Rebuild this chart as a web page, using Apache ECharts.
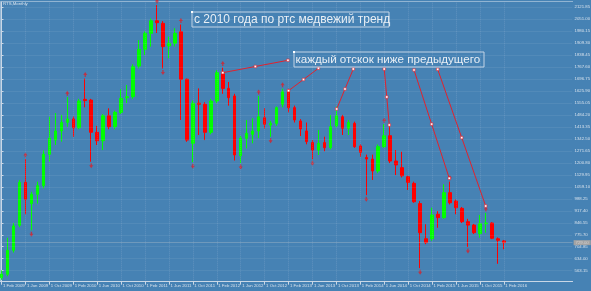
<!DOCTYPE html>
<html><head><meta charset="utf-8">
<script src="https://cdn.jsdelivr.net/npm/echarts@6/dist/echarts.min.js"></script>
<style>html,body{margin:0;padding:0;background:#4682B4;}#c{width:591px;height:291px;}</style>
</head><body><div id="c"></div>
<script>
// ---- data (RTS, Monthly, Feb 2009 .. Feb 2016) ----
const open  = [522,542,684,832,1086,960,1015,1066,1252,1336,1390,1441,1461,1409,1577,1573,1382,1332,1480,1415,1500,1587,1593,1774,1873,1968,2042,2027,1893,1909,1977,1696,1317,1554,1548,1382,1567,1727,1642,1597,1244,1347,1370,1390,1468,1425,1435,1548,1628,1528,1449,1390,1321,1277,1321,1291,1421,1474,1406,1435,1301,1233,1224,1153,1297,1362,1212,1173,1119,1080,960,752,752,897,877,1025,975,932,853,833,782,841,845,752,739];
const close = [543,684,828,1086,986,1015,1066,1252,1347,1390,1441,1461,1409,1567,1570,1382,1332,1480,1415,1500,1583,1593,1770,1873,1968,2042,2031,1889,1909,1968,1696,1336,1554,1548,1382,1567,1735,1642,1587,1248,1347,1376,1390,1474,1430,1435,1528,1622,1528,1455,1402,1327,1277,1317,1291,1415,1480,1406,1441,1297,1264,1224,1153,1297,1362,1212,1189,1125,1086,971,788,729,893,877,1025,965,936,853,833,788,841,845,755,743,729];
const low   = [508,530,670,820,897,802,960,1050,1208,1307,1327,1415,1356,1400,1530,1208,1307,1277,1400,1400,1490,1555,1580,1760,1840,1889,1970,1760,1820,1890,1455,1326,1205,1366,1336,1370,1555,1610,1540,1215,1200,1287,1317,1347,1405,1355,1420,1530,1500,1440,1360,1311,1222,1248,1270,1280,1410,1366,1366,1290,1238,1010,1100,1140,1290,1200,1129,1115,1041,965,578,720,740,817,870,955,897,845,703,780,758,788,750,604,690];
const high  = [565,758,845,1100,1224,1030,1090,1275,1474,1496,1485,1590,1475,1580,1700,1580,1420,1490,1524,1510,1637,1662,1785,1928,1980,2055,2135,2040,1948,1998,2020,1700,1570,1642,1560,1580,1750,1765,1680,1610,1360,1455,1465,1597,1524,1450,1535,1640,1640,1540,1460,1440,1335,1396,1356,1484,1534,1485,1455,1445,1310,1250,1250,1310,1430,1420,1277,1267,1125,1090,975,838,936,916,1074,1090,985,940,870,840,893,905,850,760,745];

// Bill Williams fractals: [candle index, price]
const fractalsUp   = [[4,1224],[11,1590],[14,1700],[26,2135],[30,2020],[37,1765],[43,1597],[47,1640],[64,1430],[75,1090],[81,905]];
const fractalsDown = [[5,802],[15,1208],[27,1760],[32,1205],[40,1200],[45,1355],[52,1222],[61,1010],[70,578],[78,703]];

// trend lines drawn on the chart: [[index, price], [index, price]]
const trendLines = [
  [[37.0,1734.8],[47.9,1808.2]],
  [[48.0,1628.3],[53.0,1760.9]],
  [[56.05,1520.0],[58.83,1756.7]],
  [[64.85,1425.3],[64.0,1756.7]],
  [[74.88,1109.9],[68.98,1750.8]],
  [[80.97,945.9],[72.94,1754.9]]
];

const yTickValues = [563.15,634.00,704.85,775.70,846.55,917.40,988.25,1059.10,1129.95,1200.80,1271.65,1342.50,1413.35,1484.20,1555.05,1625.90,1696.75,1767.60,1838.45,1909.30,1980.15,2051.00,2121.85];
const xTickLabels = ['1 Feb 2009','1 Jun 2009','1 Oct 2009','1 Feb 2010','1 Jun 2010','1 Oct 2010','1 Feb 2011','1 Jun 2011','1 Oct 2011','1 Feb 2012','1 Jun 2012','1 Oct 2012','1 Feb 2013','1 Jun 2013','1 Oct 2013','1 Feb 2014','1 Jun 2014','1 Oct 2014','1 Feb 2015','1 Jun 2015','1 Oct 2015','1 Feb 2016'];
const title1 = 'с 2010 года по ртс медвежий тренд';
const title2 = 'каждый отскок ниже предыдущего';

// ---- build ----
const monthNames = ['Jan','Feb','Mar','Apr','May','Jun','Jul','Aug','Sep','Oct','Nov','Dec'];
const slots = 96;
const categories = [];
for (let k = 0; k < slots; k++) {
  const m = (1 + k) % 12, y = 2009 + Math.floor((1 + k) / 12);
  categories.push('1 ' + monthNames[m] + ' ' + y);
}
const lastIdx = close.length - 1;
const candleData = open.map((o, i) => [o, close[i], low[i], high[i]]);
const labelSet = new Set(xTickLabels);
const showTick = (idx) => labelSet.has(categories[idx]);
const gridXIdx = [];
categories.forEach((c, i) => { if (labelSet.has(c)) gridXIdx.push(i); });

const txt = '#d6e1ec';
const axisCol = '#c9d7e6';
const arrowPath = 'path://M5,0 L10,6 L6.6,6 L6.6,10 L3.4,10 L3.4,6 L0,6 Z';

const lineSeries = trendLines.map(tl => {
  const a = tl[0], b = tl[1];
  const mid = [(a[0] + b[0]) / 2, (a[1] + b[1]) / 2];
  return {
    type: 'line', xAxisIndex: 1, yAxisIndex: 0, data: [a, mid, b], z: 5, clip: false,
    symbol: 'rect', symbolSize: 2.5, showSymbol: true,
    lineStyle: { color: '#e0222e', width: 1 },
    itemStyle: { color: '#ffffff', borderColor: '#e0222e', borderWidth: 0.6 },
    silent: true
  };
});

const chart = echarts.init(document.getElementById('c'), null, { renderer: 'canvas' });
chart.setOption({
  animation: false,
  backgroundColor: '#4682B4',
  grid: { left: -1.49, right: 18.41, top: 2, bottom: 9.3, containLabel: false, outerBoundsMode: 'none' },
  xAxis: [
    {
      type: 'category', data: categories, boundaryGap: true, position: 'bottom',
      axisLine: { show: true, lineStyle: { color: axisCol, width: 1 } },
      axisTick: { show: true, alignWithLabel: true, interval: (i) => showTick(i), length: 3, lineStyle: { color: axisCol } },
      axisLabel: { show: true, interval: (i) => showTick(i), align: 'left', margin: 2, padding: [0, 0, 0, 1.5],
        fontSize: 4.3, color: txt, fontFamily: 'Liberation Sans', hideOverlap: false },
      splitLine: { show: false }
    },
    { type: 'value', min: -0.5, max: slots - 0.5, show: false, splitLine: { show: false } }
  ],
  yAxis: [{
    type: 'value', position: 'right', min: 497.9, max: 2153.2, scale: true,
    axisLine: { show: true, lineStyle: { color: axisCol, width: 1 } },
    axisTick: { show: true, customValues: yTickValues, length: 2, lineStyle: { color: axisCol } },
    axisLabel: { show: true, customValues: yTickValues, formatter: v => v.toFixed(2), margin: 2,
      fontSize: 4.3, color: txt, fontFamily: 'Liberation Sans', hideOverlap: false },
    splitLine: { show: false }
  }],
  series: [
    {
      type: 'scatter', xAxisIndex: 1, data: [], z: 0, silent: true,
      markLine: {
        silent: true, symbol: ['none', 'none'], label: { show: false }, animation: false,
        lineStyle: { color: 'rgba(215,225,240,0.18)', type: 'dotted', width: 1 },
        data: yTickValues.map(v => ({ yAxis: v })).concat(gridXIdx.map(i => ({ xAxis: i })))
      }
    },
    {
      type: 'candlestick', xAxisIndex: 0, yAxisIndex: 0, data: candleData, barWidth: 3, z: 2,
      itemStyle: { color: '#00ff00', color0: '#ff0000', borderColor: '#00ff00', borderColor0: '#ff0000', borderWidth: 1 },
      markLine: {
        silent: true, symbol: ['none', 'none'], animation: false,
        lineStyle: { color: 'rgba(210,210,210,0.3)', type: 'solid', width: 1 },
        label: { show: true, position: 'end', distance: 1, formatter: p => p.value.toFixed(2), fontSize: 4.3,
          color: '#d0d0d0', backgroundColor: '#a3a3a3', padding: [0.5, 2, 0.5, 2], fontFamily: 'Liberation Sans' },
        data: [{ yAxis: close[lastIdx] }]
      }
    },
    {
      type: 'scatter', xAxisIndex: 1, data: fractalsUp, symbol: arrowPath, symbolSize: [4, 5],
      symbolOffset: [0, -4], itemStyle: { color: '#d8202a' }, z: 3, silent: true
    },
    {
      type: 'scatter', xAxisIndex: 1, data: fractalsDown, symbol: arrowPath, symbolSize: [4, 5], symbolRotate: 180,
      symbolOffset: [0, 4], itemStyle: { color: '#d8202a' }, z: 3, silent: true
    }
  ].concat(lineSeries),
  graphic: [
    { type: 'line', shape: { x1: 0.5, y1: 1.5, x2: 0.5, y2: 281.7 }, style: { stroke: 'rgba(220,230,240,0.5)', lineWidth: 1 }, silent: true },
    { type: 'line', shape: { x1: 0.5, y1: 1.5, x2: 573, y2: 1.5 }, style: { stroke: 'rgba(220,230,240,0.5)', lineWidth: 1 }, silent: true },
    { type: 'text', left: 3, top: 2, style: { text: 'RTS,Monthly', fontSize: 4.3, fill: txt, fontFamily: 'Liberation Sans' }, silent: true },
    { type: 'rect', shape: { x: 192, y: 12, width: 197, height: 15 }, style: { fill: 'none', stroke: '#c3d4e6', lineWidth: 1 }, z: 20, silent: true },
    { type: 'text', x: 194, y: 19.5, style: { text: title1, fontSize: 12, fill: '#e9eff5', fontFamily: 'Liberation Sans', verticalAlign: 'middle' }, z: 21, silent: true },
    { type: 'rect', shape: { x: 191, y: 11, width: 2, height: 2 }, style: { fill: '#ffffff' }, z: 22, silent: true },
    { type: 'rect', shape: { x: 294, y: 52, width: 190, height: 15 }, style: { fill: 'none', stroke: '#c3d4e6', lineWidth: 1 }, z: 20, silent: true },
    { type: 'text', x: 295.5, y: 59.5, style: { text: title2, fontSize: 11.6, fill: '#e9eff5', fontFamily: 'Liberation Sans', verticalAlign: 'middle' }, z: 21, silent: true },
    { type: 'rect', shape: { x: 293, y: 51, width: 2, height: 2 }, style: { fill: '#ffffff' }, z: 22, silent: true }
  ]
});
</script></body></html>
